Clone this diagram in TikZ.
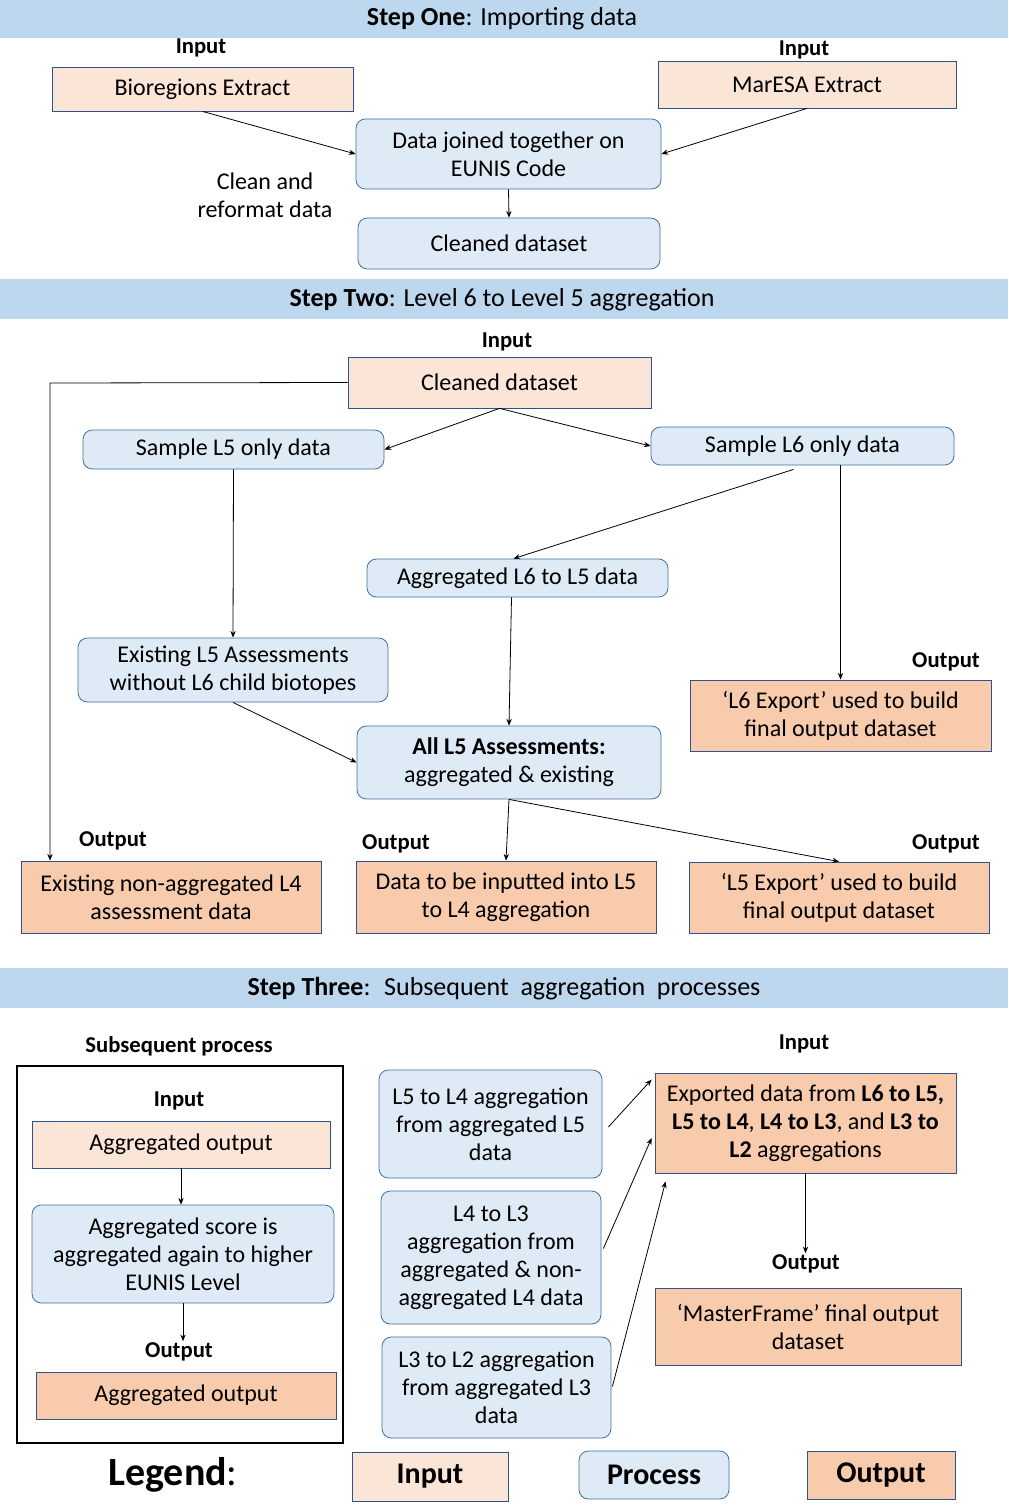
\documentclass[tikz,border=0pt]{standalone}
\usepackage{fontspec}
\setmainfont{Carlito}
\usetikzlibrary{arrows.meta,calc}

\definecolor{bandblue}{RGB}{189,215,238}
\definecolor{infill}{RGB}{251,229,214}
\definecolor{outfill}{RGB}{248,203,173}
\definecolor{procfill}{RGB}{222,235,247}
\definecolor{procline}{RGB}{65,113,156}
\definecolor{boxline}{RGB}{47,82,143}

\newcommand\bx[7]{\node[#2, minimum width={(#5-#3)*0.75pt}, minimum height={(#6-#4)*0.75pt}] (#1) at ({(#3+#5)/2},{(#4+#6)/2}) {#7};}

\begin{document}
\begin{tikzpicture}[x=0.75pt,y=-0.75pt,
  txt/.style={font=\fontsize{18}{21}\selectfont, align=center, inner sep=0pt},
  basebox/.style={txt, draw, line width=0.6pt},
  inbox/.style={basebox, fill=infill, draw=boxline},
  outbox/.style={basebox, fill=outfill, draw=boxline},
  procbox/.style={basebox, fill=procfill, draw=procline, rounded corners=7pt},
  lbl/.style={font=\fontsize{17}{20}\selectfont\bfseries, inner sep=1pt},
  band/.style={fill=bandblue, draw=none},
  bandtxt/.style={font=\fontsize{19.5}{23}\selectfont, inner sep=0pt},
  arr/.style={-{Stealth[length=5pt,width=4pt]}, line width=0.6pt},
  legtxt/.style={font=\fontsize{22.5}{26}\selectfont\bfseries, align=center, inner sep=0pt}
]
% canvas
\fill[white] (0,0) rectangle (1008,1512);
\useasboundingbox (0,0) rectangle (1008,1512);

% ---------------- Step One ----------------
\fill[band] (0,0) rectangle (1008,38);
\node[bandtxt] (h1) at (502,19) {\textbf{Step One}: Importing data};

\node[lbl] (in1a) at (201,48) {Input};
\bx{bio}{inbox}{52}{67}{353}{111}{Bioregions Extract}
\node[lbl] (in1b) at (804,50) {Input};
\bx{mar}{inbox}{658}{61}{956}{108}{MarESA Extract}
\bx{join}{procbox}{356}{119}{661}{189}{Data joined together on\\EUNIS Code}
\node[txt] (clean) at (265,195) {Clean and\\reformat data};
\bx{cleands}{procbox}{358}{218}{660}{269}{Cleaned dataset}

\draw[arr] (bio.south) -- (join.west);
\draw[arr] (mar.south) -- (join.east);
\draw[arr] (join.south) -- (cleands.north);

% ---------------- Step Two ----------------
\fill[band] (0,279) rectangle (1008,319);
\node[bandtxt] (h2) at (502,300) {\textbf{Step Two}: Level 6 to Level 5 aggregation};

\node[lbl] (in2) at (507,342) {Input};
\bx{cds}{inbox}{348}{357}{651}{408}{Cleaned dataset}
\bx{l5s}{procbox}{83}{430}{384}{469}{Sample L5 only data}
\bx{l6s}{procbox}{651}{427}{954}{465}{Sample L6 only data}
\bx{agg}{procbox}{367}{559}{668}{597}{Aggregated L6 to L5 data}
\bx{exl5}{procbox}{78}{638}{388}{702}{Existing L5 Assessments\\without L6 child biotopes}
\bx{all}{procbox}{357}{726}{661}{799}{\textbf{All L5 Assessments:}\\aggregated \& existing}

\node[lbl] (o6) at (946,662) {Output};
\bx{l6exp}{outbox}{690}{680}{991}{751}{‘L6 Export’ used to build\\final output dataset}

\node[lbl] (o2a) at (113,841) {Output};
\node[lbl] (o2b) at (396,844) {Output};
\node[lbl] (o2c) at (946,844) {Output};
\bx{nonagg}{outbox}{21}{861}{321}{933}{Existing non-aggregated L4\\assessment data}
\bx{tol4}{outbox}{356}{861}{656}{933}{Data to be inputted into L5\\to L4 aggregation}
\bx{l5exp}{outbox}{689}{862}{989}{933}{‘L5 Export’ used to build\\final output dataset}

\coordinate (lft) at (50,383);
\draw[arr] (cds.west) -- (lft) -- (lft |- nonagg.north);
\draw[arr] (cds.south) -- (l5s.east);
\draw[arr] (cds.south) -- (l6s.west);
\draw[arr] ($(l6s.south)+(-9,4)$) -- ($(agg.north)+(-4,0)$);
\draw[arr] (l6s.south -| l6exp.north) -- (l6exp.north);
\draw[arr] (l5s.south) -- (exl5.north);
\draw[arr] (exl5.south) -- (all.west);
\draw[arr] ($(agg.south)+(-6,0)$) -- (all.north);
\draw[arr] (all.south) -- (tol4.north);
\draw[arr] (all.south) -- (l5exp.north);

% ---------------- Step Three ----------------
\fill[band] (0,968) rectangle (1008,1008);
\node[bandtxt] (h3) at (504,989) {\textbf{Step Three}:~ Subsequent~ aggregation~ processes};

\node[lbl] (subp) at (179,1046) {Subsequent process};
\draw[line width=0.8pt] (17,1066) rectangle (343,1443);
\node[lbl] (in3a) at (179,1101) {Input};
\bx{aggin}{inbox}{32}{1121}{330}{1168}{Aggregated output}
\bx{aggscore}{procbox}{32}{1205}{334}{1303}{Aggregated score is\\aggregated again to higher\\EUNIS Level}
\node[lbl] (o3a) at (179,1352) {Output};
\bx{aggout}{outbox}{36}{1372}{336}{1419}{Aggregated output}

\draw[arr] (aggin.south) -- (aggin.south |- aggscore.north);
\draw[arr] (aggscore.south) -- (aggscore.south |- o3a.north);

\bx{l54}{procbox}{379}{1070}{602}{1178}{L5 to L4 aggregation\\from aggregated L5\\data}
\bx{l43}{procbox}{381}{1191}{601}{1324}{L4 to L3\\aggregation from\\aggregated \& non-\\aggregated L4 data}
\bx{l32}{procbox}{382}{1337}{611}{1438}{L3 to L2 aggregation\\from aggregated L3\\data}

\node[lbl] (in3b) at (804,1044) {Input};
\bx{expd}{outbox}{655}{1073}{956}{1173}{Exported data from \textbf{L6 to L5,}\\\textbf{L5 to L4}, \textbf{L4 to L3}, and \textbf{L3 to}\\\textbf{L2} aggregations}
\node[lbl] (o3b) at (806,1264) {Output};
\bx{master}{outbox}{655}{1288}{961}{1365}{‘MasterFrame’ final output\\dataset}

\draw[arr] ($(l54.east)+(6,3)$) -- ($(expd.north west)+(-3,7)$);
\draw[arr] ($(l43.east)+(2,-9)$) -- ($(expd.west)+(-3,15)$);
\draw[arr] ($(l32.east)+(1,-1)$) -- ($(expd.south west)+(11,8)$);
\draw[arr] (expd.south) -- (expd.south |- o3b.north);

% ---------------- Legend ----------------
\node[font=\fontsize{30}{34}\selectfont, inner sep=0pt] (leg) at (173,1475) {\textbf{Legend}:};
\bx{legin}{inbox}{352}{1452}{508}{1501}{}
\node[legtxt] (legintxt) at (legin) {Input};
\bx{legproc}{procbox}{579}{1451}{729}{1499}{}
\node[legtxt] (legproctxt) at (legproc) {Process};
\bx{legout}{outbox}{807}{1451}{955}{1499}{}
\node[legtxt] (legouttxt) at (legout) {Output};
\end{tikzpicture}
\end{document}
